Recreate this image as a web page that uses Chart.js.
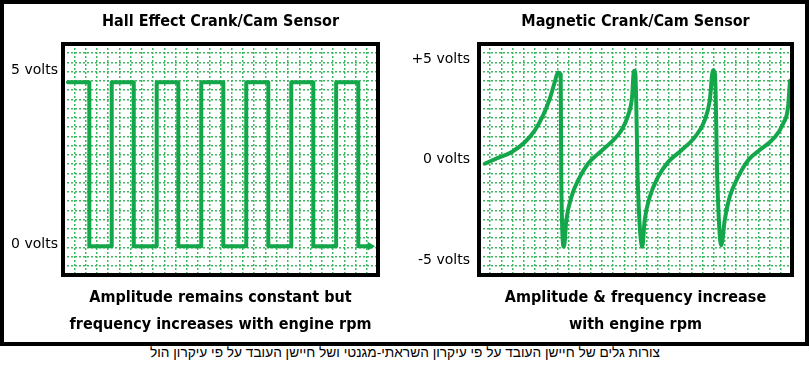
<!DOCTYPE html>
<html>
<head>
<meta charset="utf-8">
<script src="https://cdn.jsdelivr.net/npm/chart.js@4.4.1/dist/chart.umd.min.js"></script>
<style>
  body { margin: 0; background: #fff; width: 810px; height: 367px; position: relative; overflow: hidden; }
  #frame { position: absolute; left: 0; top: 0; width: 809px; height: 346px; border: 4px solid #000; box-sizing: border-box; }
  #hall { position: absolute; left: 4px; top: 4px; }
  #magnetic { position: absolute; left: 405px; top: 4px; }
  #caption { position: absolute; left: 0; top: 345px; width: 810px; line-height: 18px; text-align: center;
             font: 13.7px "Liberation Sans", "DejaVu Sans", sans-serif; color: #000; direction: rtl; }
</style>
</head>
<body>
<div id="frame"></div>
<canvas id="hall" width="401" height="337"></canvas>
<canvas id="magnetic" width="400" height="337"></canvas>
<div id="caption">צורות גלים של חיישן העובד על פי עיקרון השראתי-מגנטי ושל חיישן העובד על פי עיקרון הול</div>
<script>
// time is in grid divisions (28 across), voltage in volts
const hallTime = [0.44, 2.34, 2.34, 4.33, 4.33, 6.29, 6.29, 8.33, 8.33, 10.25, 10.25, 12.29, 12.29, 14.25,
  14.25, 16.29, 16.29, 18.25, 18.25, 20.29, 20.29, 22.25, 22.25, 24.28, 24.28, 26.25, 26.25, 27.3]
const hallVolts = [4.65, 4.65, -0.06, -0.06, 4.65, 4.65, -0.06, -0.06, 4.65, 4.65, -0.06, -0.06, 4.65, 4.65,
  -0.06, -0.06, 4.65, 4.65, -0.06, -0.06, 4.65, 4.65, -0.06, -0.06, 4.65, 4.65, -0.06, -0.06]
const hallTicks = [0, 5]

const magTime = [0.51, 1.70, 2.89, 4.09, 4.98, 5.72, 6.32, 6.77, 7.07, 7.31, 7.36, 7.60,
  7.81, 8.26, 8.86, 9.75, 10.64, 11.83, 12.73, 13.33, 13.69, 13.86, 13.98, 14.22, 14.61,
  14.82, 15.27, 16.01, 16.91, 18.09, 19.29, 20.18, 20.64, 20.93, 21.11, 21.32, 21.67,
  21.98, 22.42, 23.17, 24.06, 25.25, 26.45, 27.19, 27.64, 27.82]
const magVolts = [-0.21, 0.08, 0.36, 0.86, 1.44, 2.18, 3.0, 3.83, 4.32, 4.24, -1.04, -4.34,
  -3.02, -1.87, -1.04, -0.21, 0.28, 0.86, 1.44, 2.18, 3.08, 4.41, 4.32, -1.37, -4.34,
  -3.02, -1.87, -0.88, -0.13, 0.45, 1.10, 1.93, 2.92, 4.44, 4.26, -1.04, -4.26,
  -3.02, -1.87, -0.88, -0.05, 0.53, 1.10, 1.77, 2.59, 3.91]
const magTicks = [5, 0, -5]

const GREEN = '#14a64a'
const GRID_GREEN = '#3dba5f'
const LABEL_FONT = '"DejaVu Sans Condensed", "DejaVu Sans", sans-serif'

// thick black box round the plot area
const plotFrame = {
  id: 'plotFrame',
  afterDatasetsDraw(chart) {
    const {ctx, chartArea: a} = chart
    ctx.save()
    ctx.lineWidth = 4
    ctx.strokeStyle = '#000'
    ctx.strokeRect(a.left, a.top, a.right - a.left, a.bottom - a.top)
    ctx.restore()
  }
}

// unlabelled axes that only carry the dotted grid
const gridAxis = (max, position) => ({
  type: 'linear',
  position: position,
  min: 0,
  max: max,
  ticks: { display: false, stepSize: 1, maxTicksLimit: 100 },
  grid: { color: GRID_GREEN, lineWidth: 1.5, drawTicks: false },
  border: { display: false, dash: [2, 2] },
  afterFit: (s) => { if (s.isHorizontal()) { s.height = 0 } else { s.width = 0 } }
})

function makeChart(id, opts) {
  return new Chart(document.getElementById(id), {
    type: 'line',
    data: {
      datasets: [{
        data: opts.time.map((t, i) => ({ x: t, y: opts.volts[i] })),
        xAxisID: 'x',
        yAxisID: 'y',
        borderColor: GREEN,
        backgroundColor: GREEN,
        borderWidth: 4,
        borderCapStyle: 'round',
        borderJoinStyle: 'round',
        cubicInterpolationMode: opts.smooth ? 'monotone' : 'default',
        tension: 0,
        pointStyle: 'triangle',
        rotation: 90,
        pointBorderWidth: 0,
        pointRadius: (c) => (opts.arrow && c.dataIndex === opts.time.length - 1) ? 5 : 0,
      }]
    },
    options: {
      responsive: false,
      animation: false,
      layout: { padding: { left: 0, right: opts.padRight, top: 0, bottom: 0 } },
      scales: {
        y: {
          type: 'linear',
          position: 'left',
          min: opts.min,
          max: opts.max,
          afterBuildTicks: (s) => { s.ticks = opts.ticks.map((v) => ({ value: v })) },
          ticks: {
            color: '#000',
            padding: opts.labelGap,
            font: { family: 'DejaVu Sans', size: 14 },
            callback: (v) => (opts.signed && v > 0 ? '+' : '') + v + ' volts'
          },
          grid: { display: false, drawTicks: false },
          border: { display: false },
          afterFit: (s) => { s.width = opts.axisWidth }
        },
        x: gridAxis(28, 'bottom'),
        yg: gridAxis(25, 'right')
      },
      plugins: {
        legend: { display: false },
        tooltip: { enabled: false },
        title: {
          display: true,
          text: opts.title,
          fullSize: false,
          color: '#000',
          font: { family: LABEL_FONT, size: 16, weight: 'bold', lineHeight: 1.2 },
          padding: { top: 8.4, bottom: 12.4 }
        },
        subtitle: {
          display: true,
          position: 'bottom',
          text: opts.note,
          fullSize: false,
          color: '#000',
          font: { family: LABEL_FONT, size: 16, weight: 'bold', lineHeight: 1.7 },
          padding: { top: 9, bottom: 2.6 }
        }
      }
    },
    plugins: [plotFrame]
  })
}

makeChart('hall', {
  time: hallTime,
  volts: hallVolts,
  ticks: hallTicks,
  min: -0.89,
  max: 5.75,
  smooth: false,
  arrow: true,
  signed: false,
  padRight: 27,
  axisWidth: 59,
  labelGap: 5,
  title: 'Hall Effect Crank/Cam Sensor',
  note: ['Amplitude remains constant but', 'frequency increases with engine rpm']
})

makeChart('magnetic', {
  time: magTime,
  volts: magVolts,
  ticks: magTicks,
  min: -5.74,
  max: 5.74,
  smooth: true,
  arrow: false,
  signed: true,
  padRight: 13,
  axisWidth: 74,
  labelGap: 9,
  title: 'Magnetic Crank/Cam Sensor',
  note: ['Amplitude & frequency increase', 'with engine rpm']
})
</script>
</body>
</html>
